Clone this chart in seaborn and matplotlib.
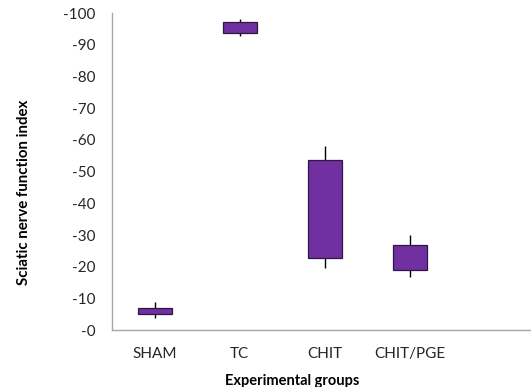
import matplotlib
matplotlib.use("Agg")
import matplotlib.pyplot as plt
import matplotlib.ticker as mticker
import seaborn as sns
import pandas as pd
import numpy as np

# Sciatic nerve function index per experimental group (negative scale)
groups = ["SHAM", "TC", "CHIT", "CHIT/PGE"]
box_low = [-5, -93.7, -22.7, -19]
box_high = [-7, -97.2, -53.8, -27]
whisker_low = [-3.7, -92.9, -19.7, -16.8]
whisker_high = [-9, -98, -58.2, -30]
y_ticks = list(range(0, -101, -10))

sns.set_theme(style="white")
plt.rcParams["font.family"] = ["Lato", "DejaVu Sans"]

df = pd.DataFrame({
    "group": groups,
    "span": np.array(box_high) - np.array(box_low),
    "low": box_low,
})

fig = plt.figure(figsize=(5.31, 3.87), dpi=100)
ax = fig.add_axes([0.211, 0.147, 0.787, 0.819])

# whiskers (high-low lines) behind the boxes
ax.vlines(np.arange(len(groups)), whisker_low, whisker_high,
          color="black", linewidth=1.0, zorder=1)

sns.barplot(data=df, x="group", y="span", bottom=df["low"].to_numpy(),
            color="#7030A0", saturation=1, width=0.4,
            edgecolor="#2e1744", linewidth=0.9, ax=ax, zorder=2)

ax.set_ylim(0, -100)
ax.set_yticks(y_ticks)
ax.yaxis.set_major_formatter(mticker.FuncFormatter(lambda v, p: f"-{abs(v):.0f}"))
ax.set_xlim(-0.5, 4.41)

for side in ("top", "right"):
    ax.spines[side].set_visible(False)
for side in ("left", "bottom"):
    ax.spines[side].set_color("#a6a6a6")
    ax.spines[side].set_linewidth(1.0)

ax.tick_params(axis="both", length=0, labelsize=11, colors="#262626")
ax.tick_params(axis="y", pad=12)
ax.tick_params(axis="x", pad=12)

ax.set_xlabel("Experimental groups", fontsize=10.5, fontweight="bold", color="black")
ax.set_ylabel("Sciatic nerve function index", fontsize=10.8, fontweight="bold", color="black")
ax.xaxis.set_label_coords(0.43, -0.14)
ax.yaxis.set_label_coords(-0.195, 0.435)

fig.savefig("out.png", dpi=100)
